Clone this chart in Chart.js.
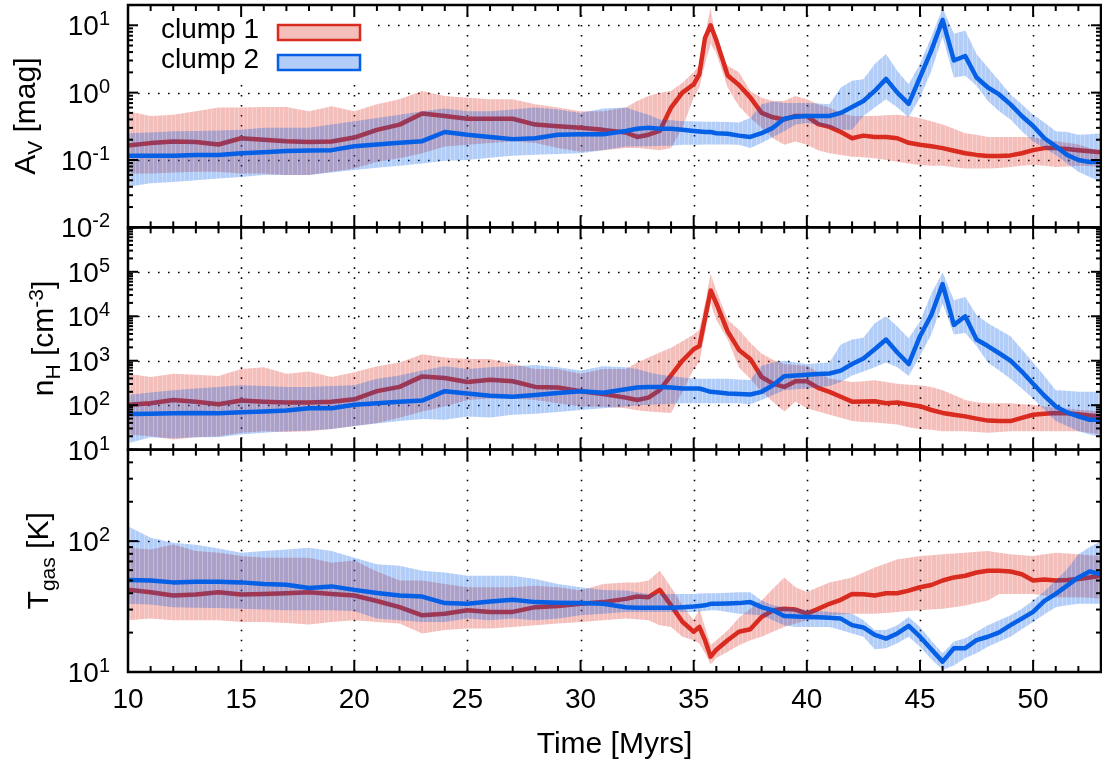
<!DOCTYPE html>
<html>
<head>
<meta charset="utf-8">
<title>Clump evolution</title>
<script src="https://cdn.jsdelivr.net/npm/chart.js@4.4.1/dist/chart.umd.min.js"></script>
<style>
  html, body { margin: 0; padding: 0; background: #fff; }
  #chart { display: block; }
</style>
</head>
<body>
<canvas id="chart" width="1102" height="764"></canvas>
<script>
// --- Data (time in Myrs) ---
const time = [10, 11, 12, 13, 14, 15, 16, 17, 18, 19, 20,
  21, 22, 23, 24, 25, 26, 27, 28, 29, 30, 31, 32,
  32.5, 33, 33.5, 34, 34.5, 35, 35.25, 35.5, 35.75,
  36, 36.5, 37, 37.5, 38, 38.5, 39, 39.5, 40, 40.5, 41, 41.5, 42,
  42.5, 43, 43.5, 44, 44.5, 45, 45.5, 46, 46.5, 47, 47.5, 48, 48.5, 49, 49.5, 50, 50.5, 51, 51.5, 52, 52.5, 53];

// A_V [mag], clump 1 (mean, upper and lower edge of the band)
const avMean1 = [0.164, 0.178, 0.188, 0.185, 0.17, 0.21, 0.2, 0.19, 0.185, 0.188, 0.215,
  0.28, 0.335, 0.49, 0.45, 0.41, 0.41, 0.41, 0.335, 0.316, 0.30, 0.28, 0.256,
  0.22, 0.237, 0.27, 0.6, 1.0, 1.33, 1.88, 6.5, 10,
  6, 1.8, 1.3, 0.85, 0.5, 0.43, 0.4, 0.45, 0.45, 0.34, 0.31, 0.26, 0.21,
  0.23, 0.22, 0.22, 0.21, 0.18, 0.168, 0.16, 0.15, 0.137, 0.126, 0.119, 0.115, 0.115, 0.117, 0.126, 0.14, 0.15, 0.15, 0.146, 0.14, 0.135, 0.13];
const avHi1 = [0.53, 0.45, 0.47, 0.53, 0.6, 0.6, 0.61, 0.61, 0.53, 0.63, 0.53,
  0.67, 0.8, 1.06, 0.89, 0.84, 0.8, 0.8, 0.67, 0.6, 0.53, 0.53, 0.6,
  0.75, 0.89, 1.0, 1.06, 1.4, 2.0, 2.6, 7.5, 18,
  5.3, 2.5, 2.0, 1.06, 0.84, 0.75, 0.75, 0.89, 0.8, 0.67, 0.6, 0.5, 0.45,
  0.45, 0.45, 0.46, 0.47, 0.45, 0.42, 0.376, 0.335, 0.29, 0.25, 0.237, 0.22, 0.22, 0.22, 0.22, 0.22, 0.2, 0.19, 0.18, 0.17, 0.15, 0.133];
const avLo1 = [0.063, 0.063, 0.065, 0.067, 0.067, 0.063, 0.063, 0.06, 0.06, 0.067, 0.075,
  0.094, 0.106, 0.126, 0.158, 0.168, 0.178, 0.188, 0.178, 0.15, 0.133, 0.14, 0.15,
  0.15, 0.146, 0.14, 0.15, 0.3, 0.84, 1.2, 2.65, 5.3,
  3.8, 1.19, 0.63, 0.42, 0.3, 0.21, 0.168, 0.188, 0.168, 0.14, 0.126, 0.119, 0.112,
  0.11, 0.106, 0.1, 0.094, 0.089, 0.084, 0.082, 0.082, 0.078, 0.075, 0.075, 0.075, 0.076, 0.079, 0.082, 0.084, 0.082, 0.079, 0.08, 0.082, 0.081, 0.079];

// A_V [mag], clump 2
const avMean2 = [0.116, 0.116, 0.116, 0.119, 0.119, 0.126, 0.13, 0.136, 0.138, 0.14, 0.16,
  0.17, 0.18, 0.19, 0.26, 0.237, 0.22, 0.204, 0.21, 0.237, 0.24, 0.24, 0.27,
  0.29, 0.3, 0.29, 0.29, 0.28, 0.27, 0.265, 0.26, 0.26,
  0.25, 0.245, 0.23, 0.22, 0.25, 0.3, 0.41, 0.44, 0.45, 0.45, 0.45, 0.5, 0.61,
  0.75, 1.06, 1.6, 1.0, 0.68, 1.68, 4.2, 12, 3.0, 3.5, 1.68, 1.19, 0.94, 0.67, 0.45, 0.32, 0.21, 0.16, 0.119, 0.1, 0.093, 0.094];
const avHi2 = [0.25, 0.255, 0.266, 0.27, 0.275, 0.28, 0.3, 0.3, 0.3, 0.335, 0.376,
  0.42, 0.47, 0.53, 0.58, 0.53, 0.53, 0.56, 0.6, 0.56, 0.5, 0.58, 0.6,
  0.53, 0.47, 0.4, 0.39, 0.376, 0.376, 0.372, 0.37, 0.37,
  0.37, 0.365, 0.36, 0.42, 0.67, 0.74, 0.7, 0.7, 0.7, 0.69, 0.67, 1.19, 1.5,
  1.58, 2.65, 3.76, 2.1, 1.33, 2.65, 6.7, 18, 7.5, 8.4, 3.76, 2.37, 1.5, 0.94, 0.67, 0.47, 0.36, 0.266, 0.26, 0.237, 0.24, 0.25];
const avLo2 = [0.04, 0.045, 0.047, 0.05, 0.053, 0.056, 0.06, 0.06, 0.06, 0.065, 0.071,
  0.077, 0.082, 0.089, 0.097, 0.1, 0.108, 0.116, 0.12, 0.123, 0.126, 0.14, 0.158,
  0.16, 0.16, 0.162, 0.162, 0.168, 0.168, 0.169, 0.17, 0.17,
  0.17, 0.17, 0.168, 0.15, 0.178, 0.22, 0.266, 0.335, 0.355, 0.33, 0.3, 0.28, 0.28,
  0.45, 0.6, 0.8, 0.6, 0.43, 0.84, 2.1, 6.7, 1.68, 1.78, 1.26, 0.75, 0.53, 0.4, 0.266, 0.188, 0.15, 0.119, 0.089, 0.067, 0.056, 0.047];

// n_H [cm^-3], clump 1
const nhMean1 = [102, 111, 131, 120, 105, 127, 120, 115, 115, 120, 136,
  207, 258, 444, 408, 333, 375, 345, 258, 250, 207, 178, 148,
  131, 148, 218, 467, 1000, 1810, 2140, 9040, 38000,
  19400, 4590, 1750, 1100, 430, 305, 258, 345, 345, 245, 200, 155, 120,
  121, 123, 111, 115, 104, 95, 78, 67, 61, 56, 50, 45, 44, 44, 52, 61, 64, 67, 66, 63, 59, 56];
const nhHi1 = [508, 429, 508, 483, 451, 655, 713, 508, 571, 429, 553,
  750, 918, 1400, 1185, 1090, 1090, 843, 655, 655, 508, 655, 655,
  918, 1185, 1530, 1970, 2760, 3870, 5000, 19400, 89000,
  38000, 8300, 5000, 2540, 1450, 1050, 843, 800, 776, 553, 394, 362, 333,
  345, 362, 333, 305, 290, 281, 258, 218, 169, 131, 116, 111, 111, 111, 105, 102, 94, 86, 84, 79, 76, 72];
const nhLo1 = [22, 20, 17, 19, 20, 24, 26, 25, 26, 29, 34,
  40, 52, 72, 94, 131, 142, 142, 131, 111, 94, 92, 85,
  77, 72, 69, 67, 200, 655, 920, 4200, 19400,
  8300, 3000, 700, 394, 200, 120, 72, 120, 85, 72, 61, 52, 44,
  42, 41, 39, 37, 32, 29, 28, 26, 26, 26, 25, 24, 25, 26, 26, 26, 26, 26, 26, 26, 24, 22];

// n_H [cm^-3], clump 2
const nhMean2 = [63, 64, 66, 67, 66, 69, 72, 76, 85, 85, 102,
  111, 120, 127, 207, 184, 163, 155, 169, 187, 207, 190, 229,
  250, 258, 258, 250, 237, 237, 237, 218, 200,
  195, 184, 178, 174, 200, 281, 450, 467, 483, 500, 516, 600, 843,
  1125, 1810, 3000, 1530, 843, 3560, 10700, 53000, 6400, 10000, 3000, 2140, 1475, 1000, 571, 305, 163, 94, 69, 56, 47, 47];
const nhHi2 = [169, 194, 218, 237, 258, 281, 270, 258, 258, 270, 281,
  394, 467, 600, 750, 655, 713, 750, 800, 713, 600, 750, 713,
  655, 553, 483, 451, 421, 394, 394, 394, 394,
  394, 394, 380, 370, 776, 918, 1000, 918, 843, 880, 918, 2330, 3000,
  3270, 7000, 10000, 5900, 3200, 7600, 32000, 97000, 23000, 27000, 10700, 7000, 5000, 3560, 1810, 918, 451, 218, 210, 200, 200, 200];
const nhLo2 = [14, 19, 18, 19, 19, 22, 24, 26, 27, 29, 34,
  39, 44, 49, 47, 56, 53, 61, 64, 70, 78, 85, 93,
  98, 102, 105, 108, 111, 111, 111, 111, 111,
  111, 111, 111, 105, 131, 169, 218, 229, 237, 253, 271, 333, 467,
  571, 713, 918, 713, 451, 1300, 3870, 19400, 3870, 4200, 2140, 918, 600, 394, 237, 142, 79, 44, 34, 26, 22, 19];

// T_gas [K], clump 1
const tgMean1 = [42.6, 40.7, 38.4, 39.1, 40.7, 39.1, 39.5, 40, 40.7, 39.5, 38.4,
  34.9, 31.3, 27.1, 27.9, 29.6, 28.8, 28.8, 31.3, 31.9, 33.2, 34.2, 36.2,
  37.8, 37.3, 42.4, 32.3, 24.2, 20.3, 22.1, 17.5, 13.1,
  14.8, 17.5, 20.3, 21.2, 26.3, 29.6, 30.4, 30, 27.9, 30.4, 33.2, 35.6, 39.5,
  39.2, 38.4, 40, 40, 41.9, 44.4, 46.2, 50, 52.8, 54.4, 57.6, 59.3, 59.3, 58.6, 55.9, 50, 51, 50, 50.5, 51.3, 52.8, 54.4];
const tgHi1 = [89, 86.5, 94.4, 84, 81.6, 77, 74.8, 74.8, 74.8, 68.5, 71,
  58.6, 50, 50, 47.1, 44.4, 44.4, 44.4, 45.7, 44.4, 41.9, 47.1, 48.4,
  48.4, 50, 59.3, 44.4, 32.3, 24.9, 30.4, 22, 16.1,
  17.5, 20.8, 26, 30.4, 35.2, 43.2, 52.8, 44.4, 40.8, 44.4, 48.4, 50.5, 52.8,
  57.6, 62.9, 67.4, 72.7, 74.8, 77, 78, 79.3, 80.4, 81.6, 82.8, 84, 81.6, 79.3, 78, 77, 79.3, 81.6, 80.4, 79.3, 78, 77];
const tgLo1 = [24.9, 25.6, 24.9, 24.9, 24.9, 24.1, 24.1, 23.7, 23.1, 24.1, 24.9,
  24.1, 23.5, 19.7, 20.9, 21.5, 21.5, 22.1, 22.8, 23.5, 24.1, 24.9, 25.6,
  25.3, 24.9, 22.8, 22.1, 18.6, 17.5, 16.5, 13.9, 11.4,
  12.8, 14.3, 16, 17.5, 18.6, 20.3, 22.1, 23.5, 24.9, 26, 27.1, 27.5, 27.9,
  27.9, 27.9, 28.2, 28.8, 29.2, 29.6, 30, 30.4, 31.3, 32.2, 33.6, 35.2, 39.5, 39.5, 39.5, 39.5, 38.4, 37.3, 37.3, 37.3, 37, 36.3];

// T_gas [K], clump 2
const tgMean2 = [50.5, 50, 48.4, 48.9, 48.9, 48.4, 47.1, 46.5, 43.9, 45.1, 42.4,
  40.2, 38.4, 37.7, 33.6, 33.2, 34.6, 35.6, 34.2, 33.8, 33.6, 33.2, 31.3,
  31, 31, 31, 31, 31.3, 31.7, 32, 32.3, 33.2,
  33.2, 33.4, 33.6, 34.2, 31.3, 29.6, 26.8, 26.5, 26.3, 26.2, 26, 25.6, 22.8,
  21.9, 19.2, 18, 19.7, 22.5, 18.6, 14.9, 12.0, 15.2, 15.2, 17.5, 18.6, 20.1, 22.8, 25.6, 28.8, 34.9, 39.5, 45.7, 52.8, 58.6, 55.9];
const tgHi2 = [130, 106, 97, 94, 88, 81.6, 84, 86.5, 89, 84, 74.8,
  66.6, 64.8, 59.3, 57.6, 54.4, 54.4, 54.4, 51.3, 47.1, 44.4, 42.4, 41.9,
  40.7, 39.5, 39.5, 39.5, 39.5, 39.5, 39.8, 40, 40,
  40, 40.3, 40.7, 40.7, 35.2, 32.3, 31.3, 30.8, 29.6, 29.2, 28.8, 28.4, 27.9,
  24.9, 20.9, 20.9, 22.8, 26.3, 22.1, 17.4, 13.9, 17.1, 18.1, 20.3, 22.8, 24.9, 27.1, 30.4, 35.2, 41.4, 50, 61, 79.3, 90, 100];
const tgLo2 = [33.2, 32.8, 31.3, 31, 30.8, 30.4, 30, 29.6, 29.6, 29.6, 29.2,
  25.6, 24.9, 24.1, 24.1, 25.6, 24.9, 25.6, 24.9, 25.6, 27.1, 27.9, 28.8,
  28.8, 28.8, 28.8, 28.8, 28.8, 28.8, 29, 29.2, 29.6,
  29.6, 28.8, 27.9, 27.5, 27.1, 24.9, 22.8, 22.1, 22.1, 22.1, 22.1, 20.9, 19.7,
  18.6, 14.9, 15.2, 16.6, 18.6, 15.6, 12.5, 10.4, 11.2, 12.8, 13.9, 15.6, 17.1, 18.6, 21.2, 24.1, 27.6, 31.3, 32.3, 33.2, 33.2, 33.2];

// --- Tick labels ---
const xTicks = [10, 15, 20, 25, 30, 35, 40, 45, 50];
const avTickExp = [-2, -1, 0, 1];
const nhTickExp = [1, 2, 3, 4, 5];
const tgTickExp = [1, 2];
const seriesNames = ['clump 1', 'clump 2'];

// --- Styles ---
const RED = '#d92b1f';
const BLUE = '#0560e6';
const RED_RGB = '220,40,30';
const BLUE_RGB = '0,90,230';
const FONT = '"Liberation Sans", Arial, Helvetica, sans-serif';
const BIG = '28px ' + FONT;
const SMALL = '20px ' + FONT;
const TITLE = '30px ' + FONT;
const TITLE_SMALL = '21px ' + FONT;

const canvas = document.getElementById('chart');
const ctx = canvas.getContext('2d');

// Translucent band fill with the faint light stripes of the original
function stripePattern(rgb, alpha) {
  const c = document.createElement('canvas');
  c.width = 9;
  c.height = 4;
  const g = c.getContext('2d');
  g.fillStyle = `rgba(${rgb},${alpha})`;
  g.fillRect(0, 0, 9, 4);
  g.clearRect(0, 0, 1, 4);
  g.clearRect(4, 0, 1, 4);
  g.fillStyle = `rgba(${rgb},${alpha * 0.7})`;
  g.fillRect(0, 0, 1, 4);
  g.fillRect(4, 0, 1, 4);
  return ctx.createPattern(c, 'repeat');
}
const redFill = stripePattern(RED_RGB, 0.3);
const blueFill = stripePattern(BLUE_RGB, 0.3);

const pts = (arr) => time.map((t, i) => ({ x: t, y: arr[i] }));

// One panel = red band, red line, blue band, blue line (blue drawn on top)
function panelDatasets(axis, m1, hi1, lo1, m2, hi2, lo2) {
  const common = { yAxisID: axis, pointRadius: 0, tension: 0 };
  return [
    { ...common, data: pts(lo1), borderWidth: 0, fill: false, order: 4 },
    { ...common, data: pts(hi1), borderWidth: 0, fill: '-1', backgroundColor: redFill, order: 4 },
    { ...common, data: pts(m1), borderColor: RED, borderWidth: 4.5, fill: false, order: 3 },
    { ...common, data: pts(lo2), borderWidth: 0, fill: false, order: 2 },
    { ...common, data: pts(hi2), borderWidth: 0, fill: '-1', backgroundColor: blueFill, order: 2 },
    { ...common, data: pts(m2), borderColor: BLUE, borderWidth: 4.5, fill: false, order: 1 },
  ];
}

const datasets = [
  ...panelDatasets('yAv', avMean1, avHi1, avLo1, avMean2, avHi2, avLo2),
  ...panelDatasets('yNh', nhMean1, nhHi1, nhLo1, nhMean2, nhHi2, nhLo2),
  ...panelDatasets('yT', tgMean1, tgHi1, tgLo1, tgMean2, tgHi2, tgLo2),
];

const panels = [
  { id: 'yAv', exps: avTickExp, title: [['A', 0], ['V', -1], [' [mag]', 0]], titleX: 35 },
  { id: 'yNh', exps: nhTickExp, title: [['n', 0], ['H', -1], [' [cm', 0], ['-3', 1], [']', 0]], titleX: 53 },
  { id: 'yT', exps: tgTickExp, title: [['T', 0], ['gas', -1], [' [K]', 0]], titleX: 48 },
];

function yAxis(min, max, weight) {
  return {
    type: 'logarithmic', position: 'left', stack: 'panels', stackWeight: 1, weight,
    min, max,
    ticks: { display: false }, grid: { display: false }, border: { display: false },
    afterFit: (s) => { s.width = 128; },
  };
}

// Draw text made of normal / subscript / superscript pieces
function richWidth(c, parts, big, small) {
  let w = 0;
  parts.forEach(([t, k]) => { c.font = k ? small : big; w += c.measureText(t).width; });
  return w;
}
function drawRich(c, parts, x, y, big, small) {
  let cx = x;
  parts.forEach(([t, k]) => {
    c.font = k ? small : big;
    const dy = k === 1 ? -10 : (k === -1 ? 7 : 0);
    c.fillText(t, cx, y + dy);
    cx += c.measureText(t).width;
  });
}

function seg(c, x1, y1, x2, y2) {
  c.beginPath();
  c.moveTo(x1, y1);
  c.lineTo(x2, y2);
  c.stroke();
}

// Legend area is kept clear of the grid, as in the original
const LEGEND_BOX = { x: 130, y: 6, w: 240, h: 74 };

const framePlugin = {
  id: 'gnuplotFrame',
  beforeDatasetsDraw(chart) {
    const c = chart.ctx;
    const xs = chart.scales.x;
    const { left, right } = chart.chartArea;
    c.save();
    c.strokeStyle = '#000';
    c.lineWidth = 1.6;
    c.setLineDash([1.6, 8.4]);
    panels.forEach((p) => {
      const s = chart.scales[p.id];
      xTicks.slice(1).forEach((v) => {
        const px = Math.round(xs.getPixelForValue(v)) + 0.5;
        seg(c, px, s.top, px, s.bottom);
      });
      p.exps.forEach((e) => {
        const py = s.getPixelForValue(Math.pow(10, e));
        if (py > s.top + 2 && py < s.bottom - 2) seg(c, left, Math.round(py) + 0.5, right, Math.round(py) + 0.5);
      });
    });
    c.fillStyle = '#fff';
    c.fillRect(LEGEND_BOX.x, LEGEND_BOX.y, LEGEND_BOX.w, LEGEND_BOX.h);
    c.restore();
  },
  afterDatasetsDraw(chart) {
    const c = chart.ctx;
    const xs = chart.scales.x;
    const { left, right } = chart.chartArea;
    c.save();
    c.strokeStyle = '#000';
    c.fillStyle = '#000';

    panels.forEach((p) => {
      const s = chart.scales[p.id];
      const top = s.top, bottom = s.bottom;
      // inward ticks along x
      c.lineWidth = 2;
      for (let t = 10; t <= 53; t++) {
        const px = xs.getPixelForValue(t);
        const len = t % 5 === 0 ? 12 : 6;
        seg(c, px, top, px, top + len);
        seg(c, px, bottom, px, bottom - len);
      }
      // inward log ticks along y
      const lo = Math.floor(Math.log10(s.min));
      const hi = Math.ceil(Math.log10(s.max));
      for (let k = lo; k <= hi; k++) {
        for (let m = 1; m <= 9; m++) {
          const v = m * Math.pow(10, k);
          if (v < s.min * 0.999 || v > s.max * 1.001) continue;
          const py = s.getPixelForValue(v);
          const len = m === 1 ? 10 : 5;
          seg(c, left, py, left + len, py);
          seg(c, right, py, right - len, py);
        }
      }
      // frame
      c.lineWidth = 2.5;
      c.strokeRect(left, top, right - left, bottom - top);

      // y tick labels 10^n
      c.textAlign = 'left';
      c.textBaseline = 'alphabetic';
      p.exps.forEach((e) => {
        const py = s.getPixelForValue(Math.pow(10, e));
        const parts = [['10', 0], [String(e), 1]];
        const w = richWidth(c, parts, BIG, SMALL);
        drawRich(c, parts, 110 - w, py + 10, BIG, SMALL);
      });

      // rotated axis title
      const w = richWidth(c, p.title, TITLE, TITLE_SMALL);
      c.save();
      c.translate(p.titleX, (top + bottom) / 2);
      c.rotate(-Math.PI / 2);
      drawRich(c, p.title, -w / 2, 0, TITLE, TITLE_SMALL);
      c.restore();
    });

    // x tick labels and title
    c.font = BIG;
    c.textAlign = 'center';
    xTicks.forEach((v) => c.fillText(String(v), xs.getPixelForValue(v), 708));
    c.font = TITLE;
    c.fillText('Time [Myrs]', (left + right) / 2, 753);

    // legend
    const swatches = [[RED, RED_RGB, 38, 25], [BLUE, BLUE_RGB, 68, 55]];
    swatches.forEach(([col, rgb, base, boxTop], i) => {
      c.textAlign = 'right';
      c.font = BIG;
      c.fillStyle = '#000';
      c.fillText(seriesNames[i], 259, base);
      c.fillStyle = '#fff';
      c.fillRect(278, boxTop, 82, 15);
      c.fillStyle = `rgba(${rgb},0.3)`;
      c.fillRect(278, boxTop, 82, 15);
      c.strokeStyle = col;
      c.lineWidth = 2.5;
      c.strokeRect(278, boxTop, 82, 15);
    });
    c.restore();
  },
};

new Chart(ctx, {
  type: 'line',
  data: { datasets },
  options: {
    responsive: false,
    devicePixelRatio: 1,
    animation: false,
    events: [],
    layout: { padding: { top: 5, right: 1, bottom: 0, left: 0 } },
    elements: { line: { borderJoinStyle: 'round', borderCapStyle: 'round' } },
    plugins: { legend: { display: false }, tooltip: { enabled: false } },
    scales: {
      x: {
        type: 'linear', position: 'bottom', min: 10, max: 53,
        ticks: { display: false }, grid: { display: false }, border: { display: false },
        afterFit: (s) => { s.height = 92; },
      },
      yAv: yAxis(0.01, 20, 3),
      yNh: yAxis(10, 1e6, 2),
      yT: yAxis(10, 500, 1),
    },
  },
  plugins: [framePlugin],
});
</script>
</body>
</html>
